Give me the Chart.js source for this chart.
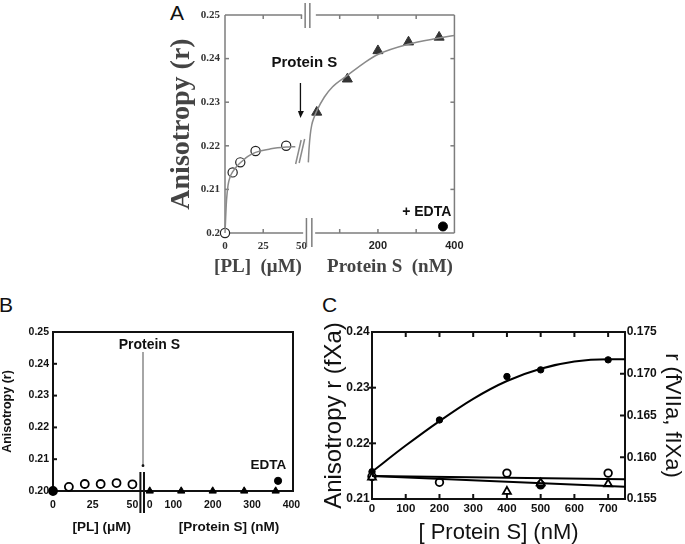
<!DOCTYPE html>
<html>
<head>
<meta charset="utf-8">
<script src="https://cdn.jsdelivr.net/npm/chart.js@4.4.1/dist/chart.umd.min.js"></script>
<style>
  body { margin: 0; background: #fff; }
  #wrap { position: relative; width: 685px; height: 544px; overflow: hidden; }
  canvas { position: absolute; }
  .panel { position: absolute; font: 21px "Liberation Sans", Arial, sans-serif; line-height: 21px; color: #111; }
</style>
</head>
<body>
<div id="wrap">
  <div class="panel" style="left:170px;top:2px">A</div>
  <div class="panel" style="left:-1px;top:294px">B</div>
  <div class="panel" style="left:322px;top:294px">C</div>
  <canvas id="chartA" width="300" height="290" style="left:170px;top:0"></canvas>
  <canvas id="chartB" width="340" height="244" style="left:0;top:300px"></canvas>
  <canvas id="chartC" width="369" height="244" style="left:316px;top:300px"></canvas>
</div>
<script>
const SANS = '"Liberation Sans", Arial, Helvetica, sans-serif';
const SERIF = '"Liberation Serif", "Times New Roman", serif';

// panel A
const plA = [0, 5, 10, 20, 40];
const rPlA = [0.200, 0.2139, 0.2162, 0.2188, 0.2200];
const psA = [40, 120, 200, 280, 360];
const rPsA = [0.2277, 0.2353, 0.2418, 0.2438, 0.2449];
const edtaA = [370, 0.2015];
const plCurveA = [0, 1, 2, 3.5, 5, 7.5, 10, 15, 20, 30, 40, 46];
const rPlCurveA = [0.200, 0.2075, 0.2110, 0.2130, 0.2140, 0.2152, 0.2161, 0.2176, 0.2185, 0.2193, 0.2197, 0.2198];
const psCurveA = [18, 20, 23, 27, 33, 40, 60, 81, 121, 167, 201, 279, 360, 400];
const rPsCurveA = [0.2162, 0.2195, 0.2225, 0.2248, 0.2265, 0.2280, 0.2312, 0.2335, 0.2362, 0.2392, 0.2410, 0.2433, 0.2447, 0.2453];
const plTicksA = [0, 25, 50];
const psTicksA = [200, 400];
const rTicksA = [0.20, 0.21, 0.22, 0.23, 0.24, 0.25];

// panel B
const plB = [0, 10, 20, 30, 40, 50];
const rPlB = [0.200, 0.2013, 0.2022, 0.2022, 0.2025, 0.2021];
const psB = [40, 120, 200, 280, 360];
const rPsB = [0.200, 0.200, 0.200, 0.200, 0.200];
const edtaB = [366, 0.2032];
const plTicksB = [0, 25, 50];
const psTicksB = [40, 100, 200, 300, 400];
const psTickTextB = ['0', '100', '200', '300', '400'];
const rTicksB = [0.20, 0.21, 0.22, 0.23, 0.24, 0.25];

// panel C
const psC = [0, 200, 400, 500, 700];
const rXaC = [0.2149, 0.2242, 0.2320, 0.2332, 0.2350];
const psCurveC = [0, 100, 200, 300, 400, 500, 600, 700, 750];
const rXaCurveC = [0.2149, 0.2196, 0.2240, 0.2280, 0.2312, 0.2334, 0.2347, 0.2351, 0.2351];
const psOpenC = [0, 200, 400, 500, 700];
const rOpenC = [0.1577, 0.1570, 0.1581, 0.1567, 0.1581];
const psTriC = [0, 400, 500, 700];
const rTriC = [0.1576, 0.1559, 0.1569, 0.1568];
const psFitC = [0, 750];
const rOpenFitC = [0.15775, 0.15736];
const rTriFitC = [0.15775, 0.15647];
const psTicksC = [0, 100, 200, 300, 400, 500, 600, 700];
const rTicksC = [0.21, 0.22, 0.23, 0.24];
const r2TicksC = [0.155, 0.160, 0.165, 0.170, 0.175];

Chart.defaults.color = '#111';
Chart.defaults.font.family = SANS;

const pts = (xs, ys) => xs.map((x, i) => ({ x, y: ys[i] }));
const fixedTicks = values => s => { s.ticks = values.map(v => ({ value: v })); };
const noGrid = { display: false, drawTicks: false };
const noBorder = { display: false };

function seg(ctx, x1, y1, x2, y2) {
  ctx.beginPath();
  ctx.moveTo(x1, y1);
  ctx.lineTo(x2, y2);
  ctx.stroke();
}
function text(ctx, str, x, y, font, color) {
  ctx.font = font;
  ctx.fillStyle = color || '#111';
  ctx.textAlign = 'center';
  ctx.textBaseline = 'middle';
  ctx.fillText(str, x, y);
}

const common = {
  responsive: false,
  animation: false,
  devicePixelRatio: 1,
  plugins: { legend: { display: false }, tooltip: { enabled: false } },
};

// ---------- A ----------
const decorA = {
  id: 'decorA',
  beforeDatasetsDraw(chart) {
    const { ctx, chartArea: a, scales: { pl, ps, y } } = chart;
    const g = ps.getPixelForValue(0);
    ctx.save();
    ctx.strokeStyle = '#7d7d7d';
    ctx.lineWidth = 1.5;
    seg(ctx, a.left, a.top, a.left, a.bottom);
    seg(ctx, a.right, a.top, a.right, a.bottom);
    seg(ctx, a.left, a.top, g + 0.7, a.top);
    seg(ctx, g + 14.4, a.top, a.right, a.top);
    seg(ctx, a.left, a.bottom, g + 1.7, a.bottom);
    seg(ctx, g + 13.7, a.bottom, a.right, a.bottom);
    // axis breaks
    seg(ctx, g + 3.7, 3, g + 3.7, 28);
    seg(ctx, g + 8.4, 3, g + 8.4, 28);
    seg(ctx, g + 5, a.bottom - 15, g + 5, a.bottom + 14);
    seg(ctx, g + 10.4, a.bottom - 15, g + 10.4, a.bottom + 14);
    // inner ticks
    rTicksA.slice(1, -1).forEach(v => {
      const yy = y.getPixelForValue(v);
      seg(ctx, a.left, yy, a.left + 4, yy);
      seg(ctx, a.right - 4, yy, a.right, yy);
    });
    [25, 50].forEach(v => seg(ctx, pl.getPixelForValue(v), a.top, pl.getPixelForValue(v), a.top + 4));
    seg(ctx, pl.getPixelForValue(25), a.bottom, pl.getPixelForValue(25), a.bottom - 4);
    [100, 200, 300].forEach(v => {
      const xx = ps.getPixelForValue(v);
      seg(ctx, xx, a.top, xx, a.top + 4);
      seg(ctx, xx, a.bottom, xx, a.bottom - 4);
    });
    // curve break slashes
    ctx.strokeStyle = '#8a8a8a';
    seg(ctx, g - 5.8, 164, g - 0.3, 140);
    seg(ctx, g - 2.3, 163, g + 3.2, 139);
    ctx.restore();
  },
  afterDraw(chart) {
    const { ctx, scales: { ps } } = chart;
    const g = ps.getPixelForValue(0);
    ctx.save();
    text(ctx, 'Protein S', g + 3, 63, 'bold 15px ' + SANS);
    ctx.strokeStyle = '#111';
    ctx.fillStyle = '#111';
    ctx.lineWidth = 1.3;
    seg(ctx, g - 1, 83, g - 1, 112);
    ctx.beginPath();
    ctx.moveTo(g - 3.5, 111);
    ctx.lineTo(g + 2.5, 111);
    ctx.lineTo(g - 1, 118);
    ctx.closePath();
    ctx.fill();
    text(ctx, '+ EDTA', 256.7, 211.7, 'bold 14px ' + SANS);
    text(ctx, '[PL]  (\u03bcM)', 88, 266.7, 'bold 19px ' + SERIF, '#444');
    text(ctx, 'Protein S  (nM)', 220, 266.7, 'bold 19px ' + SERIF, '#444');
    ctx.restore();
  }
};

new Chart(document.getElementById('chartA'), {
  type: 'line',
  data: {
    datasets: [
      { data: pts(plCurveA, rPlCurveA), xAxisID: 'pl', yAxisID: 'y', borderColor: '#8a8a8a', borderWidth: 1.5,
        pointRadius: 0, cubicInterpolationMode: 'monotone', clip: false },
      { data: pts(psCurveA, rPsCurveA), xAxisID: 'ps', yAxisID: 'y', borderColor: '#8a8a8a', borderWidth: 1.5,
        pointRadius: 0, cubicInterpolationMode: 'monotone', clip: false },
      { data: pts(plA, rPlA), xAxisID: 'pl', yAxisID: 'y', showLine: false, pointStyle: 'circle', pointRadius: 4.6,
        pointBackgroundColor: '#fff', pointBorderColor: '#222', pointBorderWidth: 1.2, clip: false },
      { data: pts(psA, rPsA), xAxisID: 'ps', yAxisID: 'y', showLine: false, pointStyle: 'triangle', pointRadius: 5.8,
        pointBackgroundColor: '#333', pointBorderColor: '#333', pointBorderWidth: 1, clip: false },
      { data: [{ x: edtaA[0], y: edtaA[1] }], xAxisID: 'ps', yAxisID: 'y', showLine: false, pointRadius: 4.5,
        pointBackgroundColor: '#000', pointBorderColor: '#000', clip: false },
    ]
  },
  options: {
    ...common,
    layout: { padding: { top: 15, right: 13, left: 0, bottom: 0 }, autoPadding: false },
    scales: {
      // broken x axis: two stacked axes sharing the bottom edge
      pl: { type: 'linear', position: 'bottom', stack: 'xa', stackWeight: 77.3, min: 0, max: 50,
        afterFit: s => { s.height = 57; }, afterBuildTicks: fixedTicks(plTicksA),
        grid: noGrid, border: noBorder,
        ticks: { font: { family: SERIF, size: 11, weight: 'bold' }, color: '#333', padding: 6.4, maxRotation: 0, autoSkip: false } },
      ps: { type: 'linear', position: 'bottom', stack: 'xa', stackWeight: 154.7, min: 0, max: 400,
        afterFit: s => { s.height = 57; }, afterBuildTicks: fixedTicks(psTicksA),
        grid: noGrid, border: noBorder,
        ticks: { font: { family: SANS, size: 11, weight: 'bold' }, color: '#222', padding: 6.4, maxRotation: 0, autoSkip: false } },
      y: { type: 'linear', position: 'left', min: 0.20, max: 0.25,
        afterFit: s => { s.width = 55; }, afterBuildTicks: fixedTicks(rTicksA),
        grid: noGrid, border: noBorder,
        ticks: { font: { family: SERIF, size: 11, weight: 'bold' }, color: '#333', padding: 5,
          callback: v => v === 0.2 ? '0.2' : v.toFixed(2) },
        title: { display: true, text: 'Anisotropy (r)', font: { family: SERIF, size: 28, weight: 'bold' }, color: '#444',
          padding: { top: -5, bottom: 0 } } }
    }
  },
  plugins: [decorA]
});

// ---------- B ----------
const decorB = {
  id: 'decorB',
  beforeDatasetsDraw(chart) {
    const { ctx, chartArea: a, scales: { y, ps } } = chart;
    const g = ps.getPixelForValue(0);
    ctx.save();
    ctx.strokeStyle = '#111';
    ctx.lineWidth = 2;
    ctx.strokeRect(a.left, a.top, a.right - a.left, a.bottom - a.top);
    rTicksB.slice(1, -1).forEach(v => {
      const yy = y.getPixelForValue(v);
      seg(ctx, a.left, yy, a.left + 4, yy);
    });
    // axis break
    seg(ctx, g + 6.4, a.bottom - 19, g + 6.4, a.bottom + 22);
    seg(ctx, g + 10, a.bottom - 19, g + 10, a.bottom + 22);
    ctx.restore();
  },
  afterDraw(chart) {
    const { ctx, scales: { ps } } = chart;
    const g = ps.getPixelForValue(0);
    ctx.save();
    text(ctx, 'Protein S', g + 15.4, 45, 'bold 14px ' + SANS);
    ctx.strokeStyle = '#888';
    ctx.lineWidth = 1.5;
    seg(ctx, g + 9, 52, g + 9, 165);
    ctx.fillStyle = '#111';
    ctx.beginPath();
    ctx.arc(g + 9, 165.7, 1.4, 0, Math.PI * 2);
    ctx.fill();
    text(ctx, 'EDTA', 268.3, 165, 'bold 13.5px ' + SANS);
    text(ctx, '[PL] (\u03bcM)', 101.7, 227.7, 'bold 13.5px ' + SANS);
    text(ctx, '[Protein S] (nM)', 229, 227.7, 'bold 13.5px ' + SANS);
    ctx.restore();
  }
};

new Chart(document.getElementById('chartB'), {
  type: 'line',
  data: {
    datasets: [
      { data: pts(plB, rPlB), xAxisID: 'pl', yAxisID: 'y', showLine: false, pointRadius: 4,
        pointBackgroundColor: plB.map(v => v === 0 ? '#000' : '#fff'), pointBorderColor: '#000', pointBorderWidth: 1.8, clip: false },
      { data: pts(psB, rPsB), xAxisID: 'ps', yAxisID: 'y', showLine: false, pointStyle: 'triangle', pointRadius: 4.2,
        pointBackgroundColor: '#000', pointBorderColor: '#000', clip: false },
      { data: [{ x: edtaB[0], y: edtaB[1] }], xAxisID: 'ps', yAxisID: 'y', showLine: false, pointRadius: 3.6,
        pointBackgroundColor: '#000', pointBorderColor: '#000', clip: false },
    ]
  },
  options: {
    ...common,
    layout: { padding: { top: 32, right: 47, left: 0, bottom: 0 }, autoPadding: false },
    scales: {
      pl: { type: 'linear', position: 'bottom', stack: 'xb', stackWeight: 81, min: 0, max: 51,
        afterFit: s => { s.height = 53; }, afterBuildTicks: fixedTicks(plTicksB),
        grid: noGrid, border: noBorder,
        ticks: { font: { size: 10.5, weight: 'bold' }, padding: 7.7, maxRotation: 0, autoSkip: false } },
      ps: { type: 'linear', position: 'bottom', stack: 'xb', stackWeight: 159, min: 0, max: 404,
        afterFit: s => { s.height = 53; }, afterBuildTicks: fixedTicks(psTicksB),
        grid: noGrid, border: noBorder,
        ticks: { font: { size: 10.5, weight: 'bold' }, padding: 7.7, maxRotation: 0, autoSkip: false,
          callback: (v, i) => psTickTextB[i] } },
      y: { type: 'linear', position: 'left', min: 0.20, max: 0.25,
        afterFit: s => { s.width = 53; }, afterBuildTicks: fixedTicks(rTicksB),
        grid: noGrid, border: noBorder,
        ticks: { font: { size: 10.5, weight: 'bold' }, padding: 4, callback: v => v.toFixed(2) },
        title: { display: true, text: 'Anisotropy (r)', font: { size: 12.5, weight: 'bold' }, padding: { top: 0, bottom: 0 } } }
    }
  },
  plugins: [decorB]
});

// ---------- C ----------
const decorC = {
  id: 'decorC',
  beforeDatasetsDraw(chart) {
    const { ctx, chartArea: a, scales: { x, y, y2 } } = chart;
    ctx.save();
    ctx.strokeStyle = '#111';
    ctx.lineWidth = 2;
    ctx.strokeRect(a.left, a.top, a.right - a.left, a.bottom - a.top);
    psTicksC.slice(1).forEach(v => {
      const xx = x.getPixelForValue(v);
      seg(ctx, xx, a.top, xx, a.top + 5);
      seg(ctx, xx, a.bottom, xx, a.bottom - 5);
    });
    rTicksC.slice(1, -1).forEach(v => {
      const yy = y.getPixelForValue(v);
      seg(ctx, a.left - 3, yy, a.left + 4, yy);
    });
    r2TicksC.slice(1, -1).forEach(v => {
      const yy = y2.getPixelForValue(v);
      seg(ctx, a.right - 5, yy, a.right, yy);
    });
    ctx.restore();
  }
};

new Chart(document.getElementById('chartC'), {
  type: 'line',
  data: {
    datasets: [
      { data: pts(psCurveC, rXaCurveC), xAxisID: 'x', yAxisID: 'y', borderColor: '#000', borderWidth: 2,
        pointRadius: 0, cubicInterpolationMode: 'monotone', clip: false },
      { data: pts(psFitC, rOpenFitC), xAxisID: 'x', yAxisID: 'y2', borderColor: '#000', borderWidth: 2,
        pointRadius: 0, clip: false },
      { data: pts(psFitC, rTriFitC), xAxisID: 'x', yAxisID: 'y2', borderColor: '#000', borderWidth: 2,
        pointRadius: 0, clip: false },
      { data: pts(psTriC, rTriC), xAxisID: 'x', yAxisID: 'y2', showLine: false, pointStyle: 'triangle', pointRadius: 4.6,
        pointBackgroundColor: '#fff', pointBorderColor: '#000', pointBorderWidth: 1.8, clip: false },
      { data: pts(psOpenC, rOpenC), xAxisID: 'x', yAxisID: 'y2', showLine: false, pointRadius: 3.8,
        pointBackgroundColor: psOpenC.map(v => v === 500 ? '#000' : '#fff'), pointBorderColor: '#000', pointBorderWidth: 1.8, clip: false },
      { data: pts(psC, rXaC), xAxisID: 'x', yAxisID: 'y', showLine: false, pointRadius: 3.2,
        pointBackgroundColor: '#000', pointBorderColor: '#000', clip: false },
    ]
  },
  options: {
    ...common,
    layout: { padding: { top: 32, right: 0, left: 0, bottom: 0 }, autoPadding: false },
    scales: {
      x: { type: 'linear', position: 'bottom', min: 0, max: 750,
        afterFit: s => { s.height = 45; }, afterBuildTicks: fixedTicks(psTicksC),
        grid: noGrid, border: noBorder,
        ticks: { font: { size: 11.5, weight: 'bold' }, padding: 3, maxRotation: 0, autoSkip: false },
        title: { display: true, text: '[ Protein S] (nM)', font: { size: 22 }, padding: { top: 0, bottom: -2 } } },
      y: { type: 'linear', position: 'left', min: 0.21, max: 0.24,
        afterFit: s => { s.width = 56; }, afterBuildTicks: fixedTicks(rTicksC),
        grid: noGrid, border: noBorder,
        ticks: { font: { size: 12, weight: 'bold' }, padding: 2.4, callback: v => v.toFixed(2) },
        title: { display: true, text: 'Anisotropy r (fXa)', font: { size: 24 }, padding: { top: 3.6, bottom: 0 } } },
      y2: { type: 'linear', position: 'right', min: 0.155, max: 0.175,
        afterFit: s => { s.width = 60; }, afterBuildTicks: fixedTicks(r2TicksC),
        grid: noGrid, border: noBorder,
        ticks: { font: { size: 12, weight: 'bold' }, padding: 1.7, callback: v => v.toFixed(3) },
        title: { display: true, text: 'r (fVIIa, fIXa)', font: { size: 22 }, padding: { top: 0, bottom: 0 } } }
    }
  },
  plugins: [decorC]
});
</script>
</body>
</html>
